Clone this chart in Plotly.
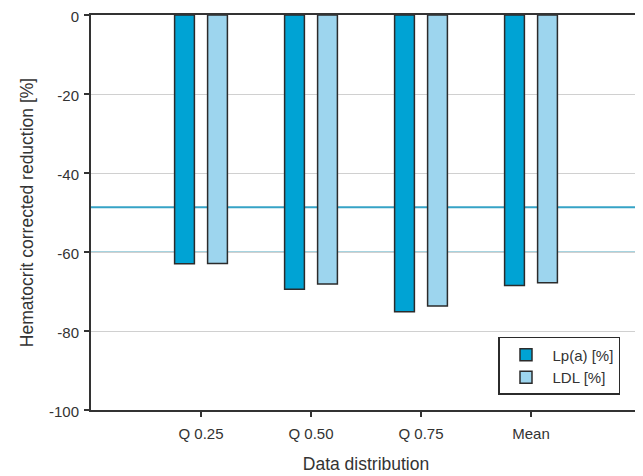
import plotly.graph_objects as go

categories = ["Q 0.25", "Q 0.50", "Q 0.75", "Mean"]
lpa_values = [-63.0, -69.4, -75.1, -68.5]
ldl_values = [-62.9, -68.1, -73.7, -67.8]
series_names = ["Lp(a) [%]", "LDL [%]"]
reference_line = -48.7
highlight_grid = -60
y_ticks = [0, -20, -40, -60, -80, -100]
y_tick_text = ["0", "-20", "-40", "-60", "-80", "-100"]

font_family = "Liberation Sans, Arial, sans-serif"
text_color = "#333333"

fig = go.Figure()
fig.add_trace(go.Bar(
    x=categories, y=lpa_values, name=series_names[0],
    marker=dict(color="#00a3d4", line=dict(color="#2b2b2b", width=1.5)),
))
fig.add_trace(go.Bar(
    x=categories, y=ldl_values, name=series_names[1],
    marker=dict(color="#9dd5ee", line=dict(color="#2b2b2b", width=1.5)),
))

fig.add_shape(type="line", xref="paper", x0=0, x1=1, yref="y",
              y0=highlight_grid, y1=highlight_grid,
              line=dict(color="#a6d3df", width=2), layer="between")
fig.add_shape(type="line", xref="paper", x0=0, x1=1, yref="y",
              y0=reference_line, y1=reference_line,
              line=dict(color="#36a3c6", width=2), layer="between")

# page body has an 8px default margin; figure sized to fit the window
fig.update_layout(
    width=635, height=468,
    margin=dict(l=83, r=2, t=7, b=66, autoexpand=False),
    paper_bgcolor="white", plot_bgcolor="white",
    barmode="group", bargap=0.4, bargroupgap=0.4,
    font=dict(family=font_family, size=15, color=text_color),
    showlegend=True,
    legend=dict(
        x=0.74, y=0.185, xanchor="left", yanchor="top",
        bordercolor="#2b2b2b", borderwidth=1.5, bgcolor="white",
        font=dict(size=15, color=text_color),
        tracegroupgap=0, itemwidth=43,
    ),
)
fig.update_xaxes(
    range=[-1, 4], automargin=False,
    showline=True, linecolor=text_color, linewidth=1.5, mirror=True,
    ticks="outside", ticklen=5, tickcolor=text_color, tickwidth=1.5,
    ticklabelstandoff=4,
    showgrid=False,
    title=dict(text="Data distribution", font=dict(size=17.5, color=text_color), standoff=17),
    tickfont=dict(size=15, color=text_color),
)
fig.update_yaxes(
    range=[-100, 0], tickvals=y_ticks, ticktext=y_tick_text, automargin=False,
    ticklabeloverflow="allow", ticklabelshift=2,
    showline=True, linecolor=text_color, linewidth=2, mirror=True,
    ticks="outside", ticklen=5, tickcolor=text_color, tickwidth=1.5,
    ticklabelstandoff=2,
    showgrid=True, gridcolor="#d0d0d0", gridwidth=1,
    zeroline=False,
    title=dict(text="Hematocrit corrected reduction [%]", font=dict(size=17.5, color=text_color), standoff=11),
    tickfont=dict(size=15, color=text_color),
)

fig.write_html("out.html")
